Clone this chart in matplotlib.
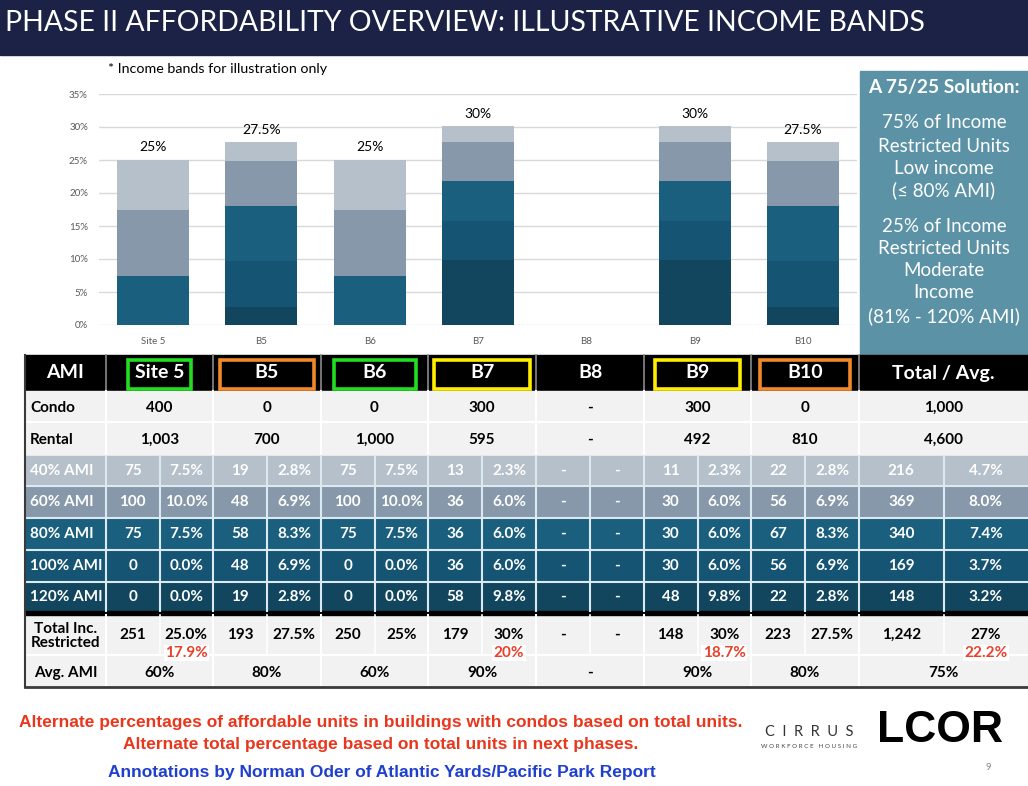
import matplotlib
matplotlib.use('Agg')
import matplotlib.pyplot as plt
import numpy as np
from matplotlib.patches import Rectangle

plt.rcParams['font.family'] = ['Lato', 'DejaVu Sans']

# ---- data ----
sites = ['Site 5', 'B5', 'B6', 'B7', 'B8', 'B9', 'B10']
condo = [400, 0, 0, 300, None, 300, 0]
rental = [1003, 700, 1000, 595, None, 492, 810]
condo_total = 1000
rental_total = 4600

bands = ['40% AMI', '60% AMI', '80% AMI', '100% AMI', '120% AMI']
units_40 = [75, 19, 75, 13, None, 11, 22]
units_60 = [100, 48, 100, 36, None, 30, 56]
units_80 = [75, 58, 75, 36, None, 30, 67]
units_100 = [0, 48, 0, 36, None, 30, 56]
units_120 = [0, 19, 0, 58, None, 48, 22]
pct_40 = [7.5, 2.8, 7.5, 2.3, None, 2.3, 2.8]
pct_60 = [10.0, 6.9, 10.0, 6.0, None, 6.0, 6.9]
pct_80 = [7.5, 8.3, 7.5, 6.0, None, 6.0, 8.3]
pct_100 = [0.0, 6.9, 0.0, 6.0, None, 6.0, 6.9]
pct_120 = [0.0, 2.8, 0.0, 9.8, None, 9.8, 2.8]
band_units_total = [216, 369, 340, 169, 148]
band_pct_total = [4.7, 8.0, 7.4, 3.7, 3.2]

restricted_units = [251, 193, 250, 179, None, 148, 223]
restricted_units_total = 1242
restricted_pct = ['25.0%', '27.5%', '25%', '30%', '-', '30%', '27.5%']
restricted_pct_total = '27%'
alt_pct = ['17.9%', None, None, '20%', None, '18.7%', None]
alt_pct_total = '22.2%'
avg_ami = ['60%', '80%', '60%', '90%', '-', '90%', '80%']
avg_ami_total = '75%'

bar_labels = ['25%', '27.5%', '25%', '30%', '', '30%', '27.5%']

# ---- styles ----
band_colors = ['#b5c0ca', '#8698a9', '#1a5f7e', '#165473', '#12465f']
box_colors = ['#22dd22', '#f0892a', '#22dd22', '#ffee00', None, '#ffee00', '#f0892a']
box_widths = [63, 94, 82, 96, 0, 85, 90]
navy = '#1c2245'
teal = '#5b92a6'
light = '#f2f2f2'
fs = 11

fig = plt.figure(figsize=(10.28, 7.86), dpi=100)
ov = fig.add_axes([0, 0, 1, 1])
ov.set_xlim(0, 1028)
ov.set_ylim(786, 0)
ov.axis('off')

# title bar
ov.add_patch(Rectangle((0, 0), 1028, 55, color=navy))
ov.text(5, 23, 'PHASE II AFFORDABILITY OVERVIEW: ILLUSTRATIVE INCOME BANDS',
        color='white', fontsize=20.4, va='center', ha='left')

# ---- bar chart ----
ax = fig.add_axes([99 / 1028, 1 - 325 / 786, 758 / 1028, 231 / 786])
ax.set_facecolor('none')
x = np.arange(len(sites))
stack = [pct_120, pct_100, pct_80, pct_60, pct_40]
stack_colors = band_colors[::-1]
bottom = np.zeros(len(sites))
for vals, c in zip(stack, stack_colors):
    v = np.array([0 if a is None else a for a in vals])
    ax.bar(x, v, width=0.665, bottom=bottom, color=c, edgecolor='none')
    bottom += v
for i, lab in enumerate(bar_labels):
    if lab:
        ax.text(i, bottom[i] + 1.0, lab, ha='center', va='bottom', fontsize=10)
ax.set_xlim(-0.5, 6.5)
ax.set_ylim(0, 35)
ax.set_yticks(np.arange(0, 36, 5))
ax.set_yticklabels([f'{t}%' for t in range(0, 36, 5)])
ax.set_xticks(x)
ax.set_xticklabels(sites)
ax.grid(axis='y', color='#d9d9d9', lw=1)
ax.set_axisbelow(True)
for s in ax.spines.values():
    s.set_visible(False)
ax.tick_params(length=0, labelsize=7, colors='#595959')
ax.tick_params(axis='y', pad=8)
ax.tick_params(axis='x', pad=9)

ov.text(108, 69, '* Income bands for illustration only', fontsize=10.3, va='center', ha='left')

# side box
ov.add_patch(Rectangle((860, 71), 168, 284, color=teal))
ov.text(944, 88, 'A 75/25 Solution:', color='white', fontsize=13.8, fontweight='bold',
        ha='center', va='center')
side_lines = [(123, '75% of Income'), (146, 'Restricted Units'), (168, 'Low income'),
              (190, '(\u2264 80% AMI)'), (226, '25% of Income'), (248, 'Restricted Units'),
              (271, 'Moderate'), (293, 'Income'), (316, '(81% - 120% AMI)')]
for yy, s in side_lines:
    ov.text(944, yy, s, color='white', fontsize=13.5, ha='center', va='center')

# ---- table ----
col_edges = [25, 106, 213, 321, 428, 536, 644, 751, 859, 1028]
n = len(sites)
centers = [(col_edges[i + 1] + col_edges[i + 2]) / 2 for i in range(n + 1)]
splits = centers
left_sub = [(col_edges[i + 1] + splits[i]) / 2 for i in range(n + 1)]
right_sub = [(splits[i] + col_edges[i + 2]) / 2 for i in range(n + 1)]

band_tops = [456, 486, 518, 550, 582]
band_bots = [486, 518, 550, 582, 612]

# backgrounds
ov.add_patch(Rectangle((25, 355), 1003, 36, color='black'))
ov.add_patch(Rectangle((25, 391), 1003, 65, color=light))
for t, b, c in zip(band_tops, band_bots, band_colors):
    ov.add_patch(Rectangle((25, t), 1003, b - t, color=c))
ov.add_patch(Rectangle((25, 614), 1003, 73, color=light))
ov.add_patch(Rectangle((25, 611), 1003, 4, color='black'))

# grid lines
for xe in col_edges[1:-1]:
    ov.plot([xe, xe], [355, 391], color='#8a8a8a', lw=1.2)
    ov.plot([xe, xe], [391, 456], color='white', lw=1.5)
    ov.plot([xe, xe], [456, 611], color='#dbeaf1', lw=1.5)
    ov.plot([xe, xe], [615, 687], color='white', lw=1.5)
for sx in splits:
    ov.plot([sx, sx], [456, 611], color='#dbeaf1', lw=1.5)
    ov.plot([sx, sx], [615, 655], color='white', lw=1.2)
ov.plot([25, 1028], [422, 422], color='white', lw=1.5)
for yb in band_bots[:-1]:
    ov.plot([25, 1028], [yb, yb], color='#dbeaf1', lw=1.5)
ov.plot([25, 1028], [655, 655], color='white', lw=1.5)
ov.plot([25, 25], [355, 687], color='#3a3a3a', lw=1.5)
ov.plot([25, 1028], [687, 687], color='#3a3a3a', lw=2)

bold = dict(fontweight='bold', va='center')

# header
ov.text(65.5, 373, 'AMI', color='white', fontsize=14, ha='center', **bold)
for i, s in enumerate(sites):
    ov.text(centers[i], 373, s, color='white', fontsize=14, ha='center', **bold)
    if box_colors[i]:
        w = box_widths[i]
        ov.add_patch(Rectangle((centers[i] - w / 2, 360), w, 29, fill=False,
                               edgecolor=box_colors[i], lw=2.6))
ov.text(centers[n], 373, 'Total / Avg.', color='white', fontsize=14, ha='center', **bold)


def fmt(v):
    return '-' if v is None else f'{v:,}'


# condo / rental
ov.text(30, 408, 'Condo', fontsize=fs, ha='left', **bold)
ov.text(30, 440, 'Rental', fontsize=fs, ha='left', **bold)
for i in range(n):
    ov.text(centers[i], 408, fmt(condo[i]), fontsize=fs, ha='center', **bold)
    ov.text(centers[i], 440, fmt(rental[i]), fontsize=fs, ha='center', **bold)
ov.text(centers[n], 408, fmt(condo_total), fontsize=fs, ha='center', **bold)
ov.text(centers[n], 440, fmt(rental_total), fontsize=fs, ha='center', **bold)

# band rows
band_units = [units_40, units_60, units_80, units_100, units_120]
band_pcts = [pct_40, pct_60, pct_80, pct_100, pct_120]
for r in range(5):
    yy = (band_tops[r] + band_bots[r]) / 2
    ov.text(30, yy, bands[r], color='white', fontsize=fs, ha='left', **bold)
    for i in range(n):
        u = band_units[r][i]
        p = band_pcts[r][i]
        ov.text(left_sub[i], yy, fmt(u), color='white', fontsize=fs, ha='center', **bold)
        ov.text(right_sub[i], yy, '-' if p is None else f'{p:.1f}%', color='white',
                fontsize=fs, ha='center', **bold)
    ov.text(left_sub[n], yy, fmt(band_units_total[r]), color='white', fontsize=fs,
            ha='center', **bold)
    ov.text(right_sub[n], yy, f'{band_pct_total[r]:.1f}%', color='white', fontsize=fs,
            ha='center', **bold)

# total restricted
ov.text(65.5, 636, 'Total Inc.\nRestricted', fontsize=fs, ha='center',
        linespacing=0.95, **bold)
red = '#e8402a'
for i in range(n):
    ov.text(left_sub[i], 635, fmt(restricted_units[i]), fontsize=fs, ha='center', **bold)
    ov.text(right_sub[i], 635, restricted_pct[i], fontsize=fs, ha='center', **bold)
    if alt_pct[i]:
        ov.text(right_sub[i], 653, alt_pct[i], color=red, fontsize=11, ha='center',
                bbox=dict(fc='white', ec='none', pad=1), **bold)
ov.text(left_sub[n], 635, fmt(restricted_units_total), fontsize=fs, ha='center', **bold)
ov.text(right_sub[n], 635, restricted_pct_total, fontsize=fs, ha='center', **bold)
ov.text(right_sub[n], 653, alt_pct_total, color=red, fontsize=11, ha='center',
        bbox=dict(fc='white', ec='none', pad=1), **bold)

# avg AMI
ov.text(65.5, 673, 'Avg. AMI', fontsize=fs, ha='center', **bold)
for i in range(n):
    ov.text(centers[i], 673, avg_ami[i], fontsize=fs, ha='center', **bold)
ov.text(centers[n], 673, avg_ami_total, fontsize=fs, ha='center', **bold)

# ---- footer ----
narrow = ['Liberation Sans Narrow', 'Liberation Sans', 'DejaVu Sans']
ov.text(381, 723, 'Alternate percentages of affordable units in buildings with condos based on total units.',
        color='#e8371d', fontsize=12.5, fontweight='bold', family=narrow, ha='center', va='center')
ov.text(381, 744, 'Alternate total percentage based on total units in next phases.',
        color='#e8371d', fontsize=12.5, fontweight='bold', family=narrow, ha='center', va='center')
ov.text(382, 773, 'Annotations by Norman Oder of Atlantic Yards/Pacific Park Report',
        color='#1f3fcf', fontsize=12.5, fontweight='bold', family=narrow, ha='center', va='center')

ov.text(809, 732, 'C  I  R  R  U  S', color='#333333', fontsize=10.5, ha='center', va='center')
ov.text(809, 747, 'W O R K F O R C E   H O U S I N G', color='#444444', fontsize=4.5,
        ha='center', va='center')
ov.text(940, 730, 'LCOR', color='black', fontsize=32, fontweight='heavy',
        family=['Liberation Sans Narrow', 'Liberation Sans'], ha='center', va='center')
ov.text(988, 768, '9', color='#888888', fontsize=7, ha='center', va='center')

fig.savefig('out.png', dpi=100)
